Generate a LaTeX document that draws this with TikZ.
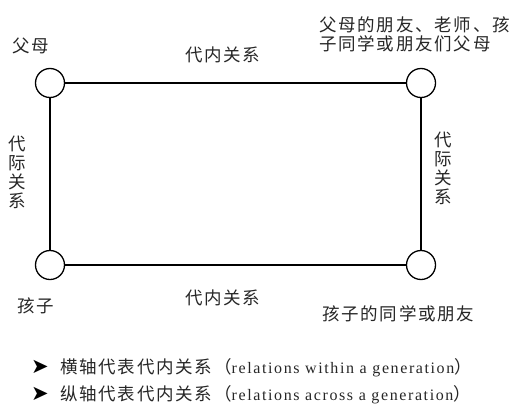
\documentclass[tikz,border=0pt]{standalone}
\usepackage{fontspec}
\setmainfont{Liberation Serif}
\newfontfamily\cjk[LetterSpace=10]{Noto Sans CJK SC}
\newfontfamily\latn[LetterSpace=10]{Liberation Serif}
\newfontfamily\symb{DejaVu Sans}
\begin{document}
\begin{tikzpicture}[x=1pt,y=-1pt,
  vert/.style={draw,circle,minimum size=29pt,inner sep=0pt,line width=1.3pt},
  conn/.style={line width=1.3pt},
  lbl/.style={inner sep=0pt,font=\fontsize{17.5}{19}\cjk,text=black!85},
  bul/.style={inner sep=0pt,font=\fontsize{21}{21}\symb}]
\useasboundingbox (0,0) rectangle (514,407);
\node[vert] (tl) at (50,83) {};
\node[vert] (tr) at (421,83) {};
\node[vert] (bl) at (50,265) {};
\node[vert] (br) at (421,265) {};
\draw[conn] (tl) -- (tr);
\draw[conn] (bl) -- (br);
\draw[conn] (tl) -- (bl);
\draw[conn] (tr) -- (br);
\node[lbl,anchor=west] (p) at (12,46) {父母};
\node[lbl,anchor=west] (t1) at (185,55) {代内关系};
\node[lbl,anchor=west,align=left] (fr) at (319,34) {父母的朋友、老师、孩\\子同学或朋友们父母};
\node[lbl,align=center] (v1) at (17,172) {代\\际\\关\\系};
\node[lbl,align=center] (v2) at (443,168) {代\\际\\关\\系};
\node[lbl,anchor=west] (c) at (17,306) {孩子};
\node[lbl,anchor=west] (t2) at (185,298) {代内关系};
\node[lbl,anchor=west] (cf) at (322,314) {孩子的同学或朋友};
\node[bul] (b1) at (40,367) {➤};
\node[bul] (b2) at (40,394) {➤};
\node[lbl,anchor=west] (l1) at (60,368) {横轴代表代内关系（{\fontsize{16}{19}\latn relations within a generation}）};
\node[lbl,anchor=west] (l2) at (60,395) {纵轴代表代内关系（{\fontsize{16}{19}\latn relations across a generation}）};
\end{tikzpicture}
\end{document}
